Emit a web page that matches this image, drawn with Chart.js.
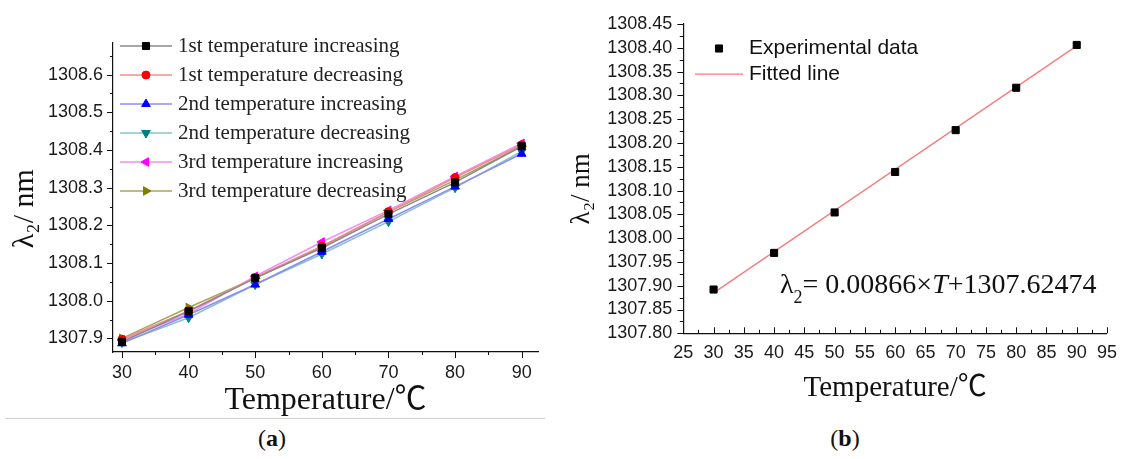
<!DOCTYPE html>
<html>
<head>
<meta charset="utf-8">
<script src="https://cdn.jsdelivr.net/npm/chart.js@4.4.1/dist/chart.umd.min.js"></script>
<style>
  body { margin: 0; background: #fff; width: 1126px; height: 459px; position: relative; overflow: hidden; }
  canvas { position: absolute; top: 0; }
  #chartA { left: 0; }
  #chartB { left: 560px; }
  .cap { position: absolute; top: 425px; width: 60px; text-align: center; font: 24px "Liberation Serif", serif; color: #111; }
  .rule { position: absolute; left: 5px; top: 418px; width: 540px; height: 1px; background: #cfcfcf; }
</style>
</head>
<body>
<canvas id="chartA" width="560" height="420"></canvas>
<canvas id="chartB" width="566" height="420"></canvas>
<div class="rule"></div>
<div class="cap" style="left:242px">(<b>a</b>)</div>
<div class="cap" style="left:815px">(<b>b</b>)</div>
<script>
// temperatures (x) shared by both panels
var temps = [30, 40, 50, 60, 70, 80, 90];

// panel (a): lambda2 for three heating / cooling runs
var inc1 = [1307.891, 1307.972, 1308.060, 1308.140, 1308.230, 1308.314, 1308.410];
var dec1 = [1307.898, 1307.973, 1308.062, 1308.145, 1308.236, 1308.327, 1308.414];
var inc2 = [1307.887, 1307.963, 1308.043, 1308.130, 1308.217, 1308.303, 1308.390];
var dec2 = [1307.889, 1307.955, 1308.043, 1308.124, 1308.210, 1308.300, 1308.396];
var inc3 = [1307.896, 1307.965, 1308.065, 1308.156, 1308.240, 1308.330, 1308.418];
var dec3 = [1307.900, 1307.982, 1308.060, 1308.144, 1308.235, 1308.320, 1308.410];
var runNames = ['1st temperature increasing', '1st temperature decreasing',
                '2nd temperature increasing', '2nd temperature decreasing',
                '3rd temperature increasing', '3rd temperature decreasing'];

// panel (b): averaged data and the fitted line end points
var expData = [1307.892, 1307.969, 1308.054, 1308.139, 1308.227, 1308.316, 1308.406];
var fitT = [30, 90];
var fitLambda = [1307.885, 1308.404];

var serif = "'Liberation Serif', 'Times New Roman', 'Noto Sans CJK SC', serif";
var sans = "'Liberation Sans', Arial, sans-serif";

function pts(xs, ys) {
  return xs.map(function (x, i) { return { x: x, y: ys[i] }; });
}

// origin style tick marks: majors from the scale, minors half way between
var axisTicks = {
  id: 'axisTicks',
  afterDraw: function (chart, args, opts) {
    var ctx = chart.ctx, area = chart.chartArea;
    ctx.save();
    ctx.strokeStyle = '#111';
    ctx.lineWidth = 1;
    ['x', 'y'].forEach(function (id) {
      var sc = chart.scales[id], o = opts[id];
      var sign = o.dir === 'in' ? -1 : 1;
      var majors = sc.ticks.map(function (k) { return k.value; });
      var step = majors[1] - majors[0];
      var minors = [];
      for (var v = majors[0] - step / 2; v <= sc.max + 1e-9; v += step) {
        if (v >= sc.min - 1e-9) minors.push(v);
      }
      function mark(v, len) {
        var p = Math.round(sc.getPixelForValue(v)) + 0.5;
        ctx.beginPath();
        if (id === 'x') { ctx.moveTo(p, area.bottom); ctx.lineTo(p, area.bottom + sign * len); }
        else { ctx.moveTo(area.left, p); ctx.lineTo(area.left - sign * len, p); }
        ctx.stroke();
      }
      majors.forEach(function (v) { mark(v, o.major); });
      minors.forEach(function (v) { mark(v, o.minor); });
    });
    ctx.restore();
  }
};

// legend with line sample + marker, like the Origin one
var lineLegend = {
  id: 'lineLegend',
  afterDraw: function (chart, args, o) {
    var ctx = chart.ctx;
    ctx.save();
    ctx.font = o.font;
    ctx.textBaseline = 'middle';
    chart.data.datasets.forEach(function (ds, i) {
      var y = o.y + i * o.rowHeight;
      if (ds.showLine !== false) {
        ctx.strokeStyle = ds.borderColor;
        ctx.lineWidth = ds.borderWidth;
        ctx.beginPath(); ctx.moveTo(o.x1, y); ctx.lineTo(o.x2, y); ctx.stroke();
      }
      if (ds.pointRadius > 0) {
        ctx.fillStyle = ds.pointBackgroundColor;
        ctx.strokeStyle = ds.pointBorderColor;
        ctx.lineWidth = 1;
        if (Chart.helpers && Chart.helpers.drawPoint) {
          Chart.helpers.drawPoint(ctx, { pointStyle: ds.pointStyle, rotation: ds.pointRotation || 0,
            radius: ds.pointRadius, borderWidth: 1 }, o.markerX, y);
        } else {
          ctx.fillRect(o.markerX - 3.5, y - 3.5, 7, 7);
        }
      }
      ctx.fillStyle = o.color;
      ctx.fillText(ds.label, o.textX, y);
    });
    ctx.restore();
  }
};

var equation = {
  id: 'equation',
  afterDraw: function (chart, args, o) {
    var ctx = chart.ctx, x = o.x;
    ctx.save();
    ctx.fillStyle = '#111';
    ctx.textBaseline = 'alphabetic';
    o.parts.forEach(function (p) {
      ctx.font = p.font;
      ctx.fillText(p.text, x, o.y + (p.dy || 0));
      x += ctx.measureText(p.text).width;
    });
    ctx.restore();
  }
};

// ---------- panel (a) ----------
var runValues = [inc1, dec1, inc2, dec2, inc3, dec3];
var lineCols = ['#8a8a8a', '#f28c8c', '#8c8cf2', '#86c4c4', '#f58cf5', '#a6a65c'];
var markCols = ['#000000', '#ff0000', '#0000ff', '#008080', '#ff00ff', '#808000'];
var styles = ['rect', 'circle', 'triangle', 'triangle', 'triangle', 'triangle'];
var rots = [0, 0, 0, 180, -90, 90];
var radii = [5, 4, 5, 5, 5, 5];

var datasetsA = runValues.map(function (vals, i) {
  return {
    label: runNames[i],
    data: pts(temps, vals),
    showLine: true,
    borderColor: lineCols[i],
    borderWidth: 1.5,
    pointStyle: styles[i],
    pointRotation: rots[i],
    pointRadius: radii[i],
    pointBackgroundColor: markCols[i],
    pointBorderColor: markCols[i],
    pointBorderWidth: 1
  };
});

new Chart(document.getElementById('chartA'), {
  type: 'scatter',
  data: { datasets: datasetsA },
  options: {
    responsive: false,
    animation: false,
    devicePixelRatio: 1,
    layout: { padding: { left: 7, top: 43, right: 22, bottom: 0 } },
    plugins: {
      legend: { display: false },
      tooltip: { enabled: false },
      axisTicks: { x: { dir: 'out', major: 6, minor: 3 }, y: { dir: 'out', major: 6, minor: 3 } },
      lineLegend: { x1: 120, x2: 172, markerX: 146, textX: 178, y: 46, rowHeight: 29,
                    font: '21px ' + serif, color: '#222' }
    },
    scales: {
      x: {
        type: 'linear', min: 28.65, max: 92.45,
        afterFit: function (s) { s.height = 68; },
        grid: { display: false, drawTicks: false },
        border: { color: '#111', width: 1.2 },
        ticks: { stepSize: 10, includeBounds: false, padding: 10, autoSkip: false, maxRotation: 0,
                 color: '#1a1a1a', font: { family: sans, size: 18 } },
        title: { display: true, text: 'Temperature/℃', color: '#111', padding: 0,
                 font: { family: serif, size: 32 } }
      },
      y: {
        min: 1307.864, max: 1308.684,
        afterFit: function (s) { s.width = 106; },
        grid: { display: false, drawTicks: false },
        border: { color: '#111', width: 1.2 },
        ticks: { stepSize: 0.1, includeBounds: false, padding: 10, autoSkip: false,
                 color: '#1a1a1a', font: { family: sans, size: 18 },
                 callback: function (v) { return v.toFixed(1); } },
        title: { display: true, text: 'λ₂/ nm\u00a0\u00a0\u00a0', color: '#111', padding: 0,
                 font: { family: serif, size: 30 } }
      }
    }
  },
  plugins: [axisTicks, lineLegend]
});

// ---------- panel (b) ----------
new Chart(document.getElementById('chartB'), {
  type: 'scatter',
  data: {
    datasets: [{
      label: 'Experimental data',
      data: pts(temps, expData),
      showLine: false,
      pointStyle: 'rect',
      pointRadius: 5,
      pointBackgroundColor: '#000',
      pointBorderColor: '#000',
      pointBorderWidth: 1
    }, {
      label: 'Fitted line',
      data: pts(fitT, fitLambda),
      showLine: true,
      borderColor: '#f47c7c',
      borderWidth: 1.3,
      pointRadius: 0
    }]
  },
  options: {
    responsive: false,
    animation: false,
    devicePixelRatio: 1,
    layout: { padding: { left: 5.8, top: 24, right: 14.3, bottom: 14.6 } },
    plugins: {
      legend: { display: false },
      tooltip: { enabled: false },
      axisTicks: { x: { dir: 'in', major: 6, minor: 3.5 }, y: { dir: 'out', major: 6, minor: 3.5 } },
      lineLegend: { x1: 135, x2: 183, markerX: 159, textX: 189, y: 48.5, rowHeight: 25.7,
                    font: '21px ' + sans, color: '#111' },
      equation: {
        x: 220, y: 293,
        parts: [
          { text: 'λ', font: '28px ' + serif },
          { text: '2', font: '18px ' + serif, dy: 10 },
          { text: '= 0.00866×', font: '28px ' + serif },
          { text: 'T', font: 'italic 28px ' + serif },
          { text: '+1307.62474', font: '28px ' + serif }
        ]
      }
    },
    scales: {
      x: {
        type: 'linear', min: 25, max: 95,
        afterFit: function (s) { s.height = 72.1; },
        grid: { display: false, drawTicks: false },
        border: { color: '#111', width: 1.2 },
        ticks: { stepSize: 5, padding: 9, autoSkip: false, maxRotation: 0,
                 color: '#1a1a1a', font: { family: sans, size: 18 } },
        title: { display: true, text: 'Temperature/℃', color: '#111', padding: 0,
                 font: { family: serif, size: 29 } }
      },
      y: {
        min: 1307.80, max: 1308.45,
        afterFit: function (s) { s.width = 117.5; },
        grid: { display: false, drawTicks: false },
        border: { color: '#111', width: 1.2 },
        ticks: { stepSize: 0.05, padding: 11, autoSkip: false,
                 color: '#1a1a1a', font: { family: sans, size: 18 },
                 callback: function (v) { return v.toFixed(2); } },
        title: { display: true, text: 'λ₂/ nm\u00a0\u00a0\u00a0', color: '#111', padding: 0,
                 font: { family: serif, size: 27 } }
      }
    }
  },
  plugins: [axisTicks, lineLegend, equation]
});
</script>
</body>
</html>
